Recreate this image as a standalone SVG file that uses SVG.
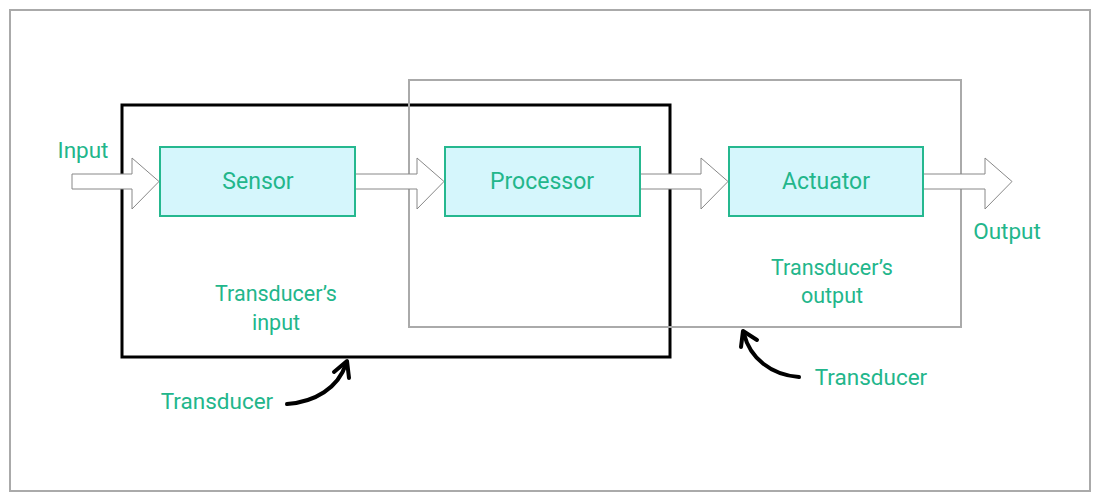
<svg xmlns="http://www.w3.org/2000/svg" width="1100" height="500" viewBox="0 0 1100 500">
<style>
.t{font-family:Roboto,"Liberation Sans",sans-serif;fill:#22b68b;text-anchor:middle}
.blk{fill:#d5f6fc;stroke:#25b88f;stroke-width:2}
.arr{fill:#fff;stroke:#888;stroke-width:1}
.crv{fill:none;stroke:#000;stroke-width:4;stroke-linecap:round;stroke-linejoin:round}
</style>
<rect x="0" y="0" width="1100" height="500" fill="#fff"/>
<rect x="10" y="10" width="1080" height="481" fill="none" stroke="#aaa" stroke-width="2"/>
<g id="transducer-input-box">
<rect x="122" y="105" width="548" height="252" fill="none" stroke="#000" stroke-width="3"/>
</g>
<g id="transducer-output-box">
<rect x="409" y="80" width="552" height="247" fill="none" stroke="#aaa" stroke-width="2"/>
</g>
<g id="connectors">
<path class="arr" d="M72,174 H132 V158 L159,181.5 L132,209 V189 H72 Z"/>
<path class="arr" d="M355,174 H417 V158 L444,181.5 L417,209 V189 H355 Z"/>
<path class="arr" d="M640,174 H701 V158 L728,181.5 L701,209 V189 H640 Z"/>
<path class="arr" d="M923,174 H985 V158 L1012,181.5 L985,209 V189 H923 Z"/>
<path class="crv" d="M287,404 C315,402 338,388 346,364"/>
<path class="crv" d="M334,372 L347,361 L349,378"/>
<path class="crv" d="M799,377 C771,375 750,358 744,334"/>
<path class="crv" d="M741,347 L743,331 L757,340"/>
</g>
<g id="sensor">
<rect class="blk" x="160" y="147" width="195" height="69"/>
<text class="t" x="258" y="189" font-size="23">Sensor</text>
</g>
<g id="processor">
<rect class="blk" x="445" y="147" width="195" height="69"/>
<text class="t" x="542" y="189" font-size="23">Processor</text>
</g>
<g id="actuator">
<rect class="blk" x="729" y="147" width="194" height="69"/>
<text class="t" x="826" y="189" font-size="23">Actuator</text>
</g>
<g id="labels">
<text class="t" x="83" y="158" font-size="22.5">Input</text>
<text class="t" x="1007" y="239" font-size="22.5">Output</text>
<text class="t" x="276" y="301" font-size="21.5">Transducer’s</text>
<text class="t" x="276" y="330" font-size="21.5">input</text>
<text class="t" x="832" y="275" font-size="21.5">Transducer’s</text>
<text class="t" x="832" y="303" font-size="21.5">output</text>
<text class="t" x="217" y="409" font-size="22.5">Transducer</text>
<text class="t" x="871" y="385" font-size="22.5">Transducer</text>
</g>
</svg>
